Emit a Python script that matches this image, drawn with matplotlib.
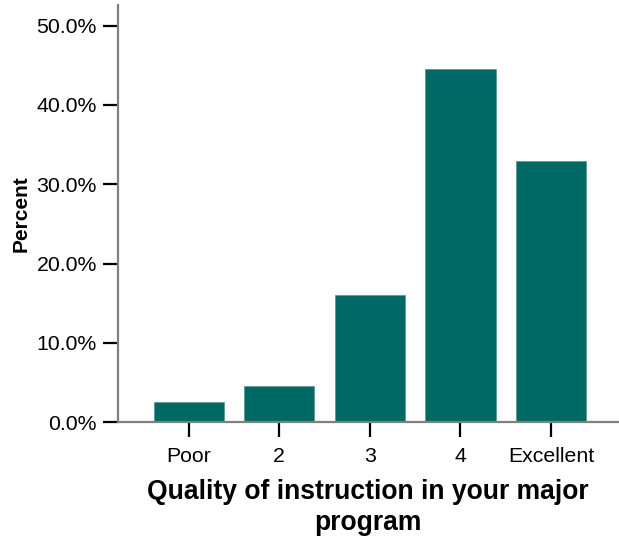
import matplotlib
matplotlib.use("Agg")
import matplotlib.pyplot as plt
from matplotlib.ticker import FuncFormatter

plt.rcParams['font.family'] = ['Liberation Sans', 'DejaVu Sans']

# 응답 범주와 비율(%)
categories = ['Poor', '2', '3', '4', 'Excellent']
percents = [2.5, 4.6, 16.1, 44.5, 33.0]

bar_color = '#006865'

fig = plt.figure(figsize=(6.19, 5.37), dpi=100)
ax = fig.add_axes([0.19, 0.2136, 0.81, 0.777])

x_pos = range(len(categories))
ax.bar(x_pos, percents, width=0.777, color=bar_color, edgecolor='#5a9a98', linewidth=0.6)

ax.set_xlim(-0.785, 4.75)
ax.set_ylim(0, 52.6)
ax.set_yticks([0, 10, 20, 30, 40, 50])
ax.yaxis.set_major_formatter(FuncFormatter(lambda v, p: '%.1f%%' % v))
ax.set_xticks(list(x_pos))
ax.set_xticklabels(categories)

for side in ['top', 'right']:
    ax.spines[side].set_visible(False)
for side in ['left', 'bottom']:
    ax.spines[side].set_color('#808080')
    ax.spines[side].set_linewidth(1.6)

ax.tick_params(axis='both', length=11, width=1.6, color='black', labelsize=15.3)
ax.tick_params(axis='y', pad=4)
ax.tick_params(axis='x', pad=7)

ax.set_ylabel('Percent', fontsize=15, fontweight='bold', labelpad=4)
ax.set_xlabel('Quality of instruction in your major\nprogram', fontsize=19.1,
              fontweight='bold', labelpad=9, linespacing=1.25)

fig.savefig('out.png', dpi=100)
